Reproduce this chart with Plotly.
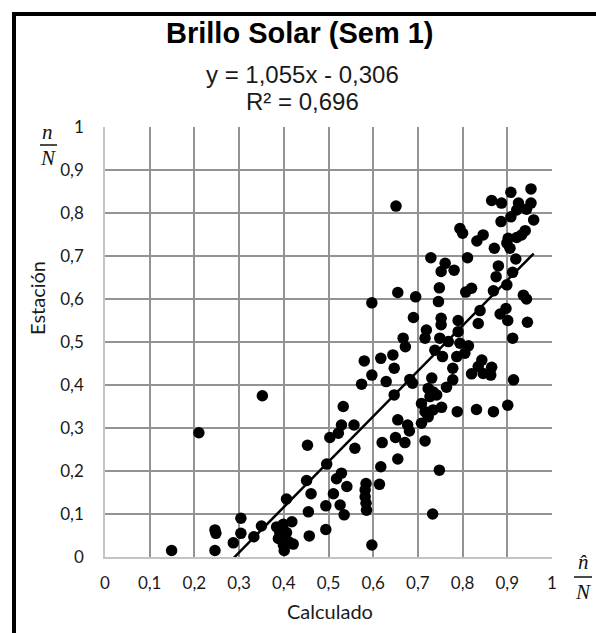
import plotly.graph_objects as go

# Sunshine ratio: computed (n^/N) vs station-measured (n/N), week 1
x_calc = [
    0.651, 0.908, 0.953, 0.865, 0.887, 0.925, 0.953, 0.921, 0.943, 0.908,
    0.886, 0.959, 0.794, 0.800, 0.846, 0.832, 0.940, 0.932, 0.921, 0.902,
    0.899, 0.906, 0.871, 0.729, 0.761, 0.752, 0.781, 0.811, 0.919, 0.880,
    0.875, 0.912, 0.899, 0.869, 0.820, 0.807, 0.748, 0.655, 0.695, 0.936,
    0.943, 0.746, 0.597, 0.690, 0.752, 0.752, 0.790, 0.839, 0.835, 0.884,
    0.897, 0.901, 0.945, 0.912, 0.719, 0.716, 0.667, 0.672, 0.749, 0.768,
    0.790, 0.794, 0.813, 0.738, 0.755, 0.787, 0.805, 0.617, 0.644, 0.647,
    0.597, 0.629, 0.778, 0.843, 0.835, 0.865, 0.820, 0.846, 0.863, 0.914,
    0.682, 0.688, 0.731, 0.778, 0.764, 0.723, 0.734, 0.742, 0.727, 0.647,
    0.708, 0.753, 0.734, 0.716, 0.723, 0.788, 0.831, 0.869, 0.901, 0.655,
    0.677, 0.708, 0.681, 0.620, 0.650, 0.671, 0.716, 0.655, 0.617, 0.748,
    0.614, 0.733, 0.597, 0.352, 0.580, 0.574, 0.533, 0.529, 0.557, 0.503,
    0.522, 0.559, 0.453, 0.496, 0.529, 0.518, 0.541, 0.451, 0.406, 0.461,
    0.511, 0.494, 0.526, 0.535, 0.584, 0.582, 0.582, 0.584, 0.585, 0.455,
    0.494, 0.457, 0.304, 0.304, 0.287, 0.333, 0.350, 0.384, 0.399, 0.418,
    0.391, 0.406, 0.388, 0.410, 0.399, 0.421, 0.401, 0.210, 0.149, 0.246,
    0.248, 0.246,
]
y_est = [
    0.816, 0.848, 0.856, 0.829, 0.823, 0.823, 0.823, 0.807, 0.809, 0.791,
    0.780, 0.784, 0.764, 0.753, 0.749, 0.735, 0.759, 0.749, 0.743, 0.741,
    0.730, 0.718, 0.718, 0.696, 0.683, 0.664, 0.667, 0.696, 0.693, 0.677,
    0.652, 0.662, 0.633, 0.619, 0.625, 0.616, 0.626, 0.615, 0.605, 0.609,
    0.600, 0.594, 0.591, 0.557, 0.555, 0.540, 0.550, 0.573, 0.543, 0.565,
    0.578, 0.550, 0.546, 0.509, 0.528, 0.509, 0.509, 0.489, 0.509, 0.501,
    0.524, 0.497, 0.491, 0.481, 0.466, 0.466, 0.474, 0.462, 0.470, 0.439,
    0.423, 0.408, 0.439, 0.458, 0.443, 0.441, 0.426, 0.427, 0.423, 0.412,
    0.413, 0.404, 0.416, 0.412, 0.395, 0.392, 0.384, 0.377, 0.373, 0.377,
    0.357, 0.348, 0.342, 0.338, 0.326, 0.338, 0.343, 0.338, 0.353, 0.319,
    0.307, 0.311, 0.293, 0.266, 0.278, 0.266, 0.270, 0.228, 0.210, 0.202,
    0.169, 0.100, 0.028, 0.375, 0.456, 0.402, 0.350, 0.307, 0.307, 0.278,
    0.288, 0.253, 0.260, 0.216, 0.195, 0.182, 0.164, 0.178, 0.135, 0.147,
    0.147, 0.119, 0.121, 0.098, 0.171, 0.156, 0.140, 0.125, 0.109, 0.105,
    0.064, 0.049, 0.090, 0.055, 0.033, 0.047, 0.072, 0.070, 0.076, 0.082,
    0.057, 0.057, 0.043, 0.036, 0.028, 0.030, 0.015, 0.289, 0.015, 0.063,
    0.055, 0.015,
]

# Linear trendline as reported: y = 1,055x - 0,306 ; R² = 0,696
slope = 1.055
intercept = -0.306
r_squared = 0.696

title_text = "Brillo Solar (Sem 1)"
x_title = "Calculado"
y_title = "Estación"

x_line = [min(x_calc), max(x_calc)]
y_line = [slope * v + intercept for v in x_line]

fig = go.Figure()
fig.add_trace(go.Scatter(
    x=x_line, y=y_line, mode="lines",
    line=dict(color="black", width=2.5),
    hoverinfo="skip", showlegend=False, cliponaxis=True,
))
fig.add_trace(go.Scatter(
    x=x_calc, y=y_est, mode="markers",
    marker=dict(color="black", size=11.5),
    showlegend=False,
))

W, H = 596, 633
L, R, T, B = 105, 44, 127, 76
pw, ph = W - L - R, H - T - B


def px(x):
    return (x - L) / pw


def py(y):
    return (H - B - y) / ph


grid = "#939393"
tick_font = dict(family="Lato, Open Sans, sans-serif", size=17, color="#1a1a1a")

fig.update_xaxes(
    range=[0, 1], dtick=0.1, showgrid=True, gridcolor=grid, gridwidth=1.5,
    zeroline=False, showline=True, linecolor="#c4c4c4", linewidth=1.5,
    ticks="", tickfont=tick_font, ticklabelstandoff=10, fixedrange=True,
)
fig.update_yaxes(
    range=[0, 1], dtick=0.1, showgrid=True, gridcolor=grid, gridwidth=1.5,
    zeroline=False, showline=True, linecolor="#c4c4c4", linewidth=1.5,
    ticks="", tickfont=tick_font, ticklabelstandoff=16, fixedrange=True,
)

math_font = dict(family="Liberation Serif, DejaVu Serif, serif", size=21, color="#111")
text_font = dict(family="Liberation Sans, Arial, sans-serif", size=24, color="#1a1a1a")
label_font = dict(family="Lato, Open Sans, sans-serif", size=20, color="#1a1a1a")

annotations = [
    dict(x=px(300), y=py(33), text=f"<b>{title_text}</b>",
         font=dict(family="Liberation Sans, Arial, sans-serif", size=29, color="#000")),
    dict(x=px(302), y=py(74), text=f"y = {slope:.3f}x - {abs(intercept):.3f}".replace(".", ","),
         font=text_font),
    dict(x=px(302), y=py(101), text=f"R² = {r_squared:.3f}".replace(".", ","),
         font=text_font),
    dict(x=px(330), y=py(611), text=x_title, font=label_font),
    dict(x=px(37), y=py(298), text=y_title, textangle=-90, font=label_font),
    # n / N on the vertical axis
    dict(x=px(48), y=py(132), text="<i>n</i>", font=math_font),
    dict(x=px(48), y=py(158), text="<i>N</i>", font=math_font),
    # n-hat / N on the horizontal axis
    dict(x=px(583), y=py(562), text="<i>n̂</i>", font=math_font),
    dict(x=px(583), y=py(592), text="<i>N</i>", font=math_font),
]
for a in annotations:
    a.update(xref="paper", yref="paper", showarrow=False,
             xanchor="center", yanchor="middle")

shapes = [
    # fraction bars
    dict(type="line", xref="paper", yref="paper",
         x0=px(40), x1=px(57), y0=py(145), y1=py(145),
         line=dict(color="#111", width=1.5)),
    dict(type="line", xref="paper", yref="paper",
         x0=px(574), x1=px(592), y0=py(577), y1=py(577),
         line=dict(color="#111", width=1.5)),
    # outer frame
    dict(type="path", xref="paper", yref="paper",
         path=f"M {px(14)},{py(700)} L {px(14)},{py(14)} L {px(700)},{py(14)}",
         line=dict(color="black", width=4)),
]

fig.update_layout(
    width=W, height=H,
    margin=dict(l=L, r=R, t=T, b=B),
    paper_bgcolor="white", plot_bgcolor="white",
    separators=",.",
    annotations=annotations,
    shapes=shapes,
    showlegend=False,
)

fig.write_html("out.html")
